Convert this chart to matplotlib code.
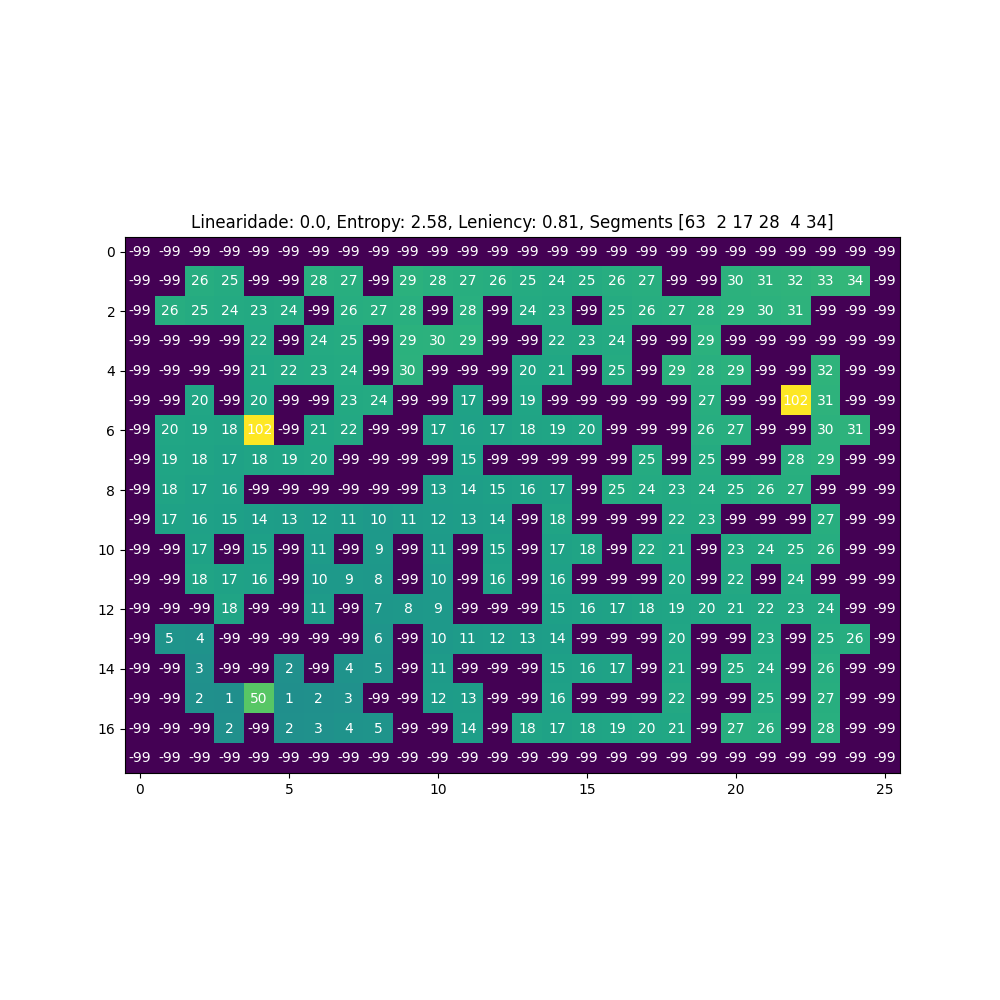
import numpy as np
import matplotlib
matplotlib.use("Agg")
import matplotlib.pyplot as plt

# -----------------------------
# level grid (-99 = wall)
# -----------------------------
W = -99
grid = [
    [W] * 26,
    [W, W, 26, 25, W, W, 28, 27, W, 29, 28, 27, 26, 25, 24, 25, 26, 27, W, W, 30, 31, 32, 33, 34, W],
    [W, 26, 25, 24, 23, 24, W, 26, 27, 28, W, 28, W, 24, 23, W, 25, 26, 27, 28, 29, 30, 31, W, W, W],
    [W, W, W, W, 22, W, 24, 25, W, 29, 30, 29, W, W, 22, 23, 24, W, W, 29, W, W, W, W, W, W],
    [W, W, W, W, 21, 22, 23, 24, W, 30, W, W, W, 20, 21, W, 25, W, 29, 28, 29, W, W, 32, W, W],
    [W, W, 20, W, 20, W, W, 23, 24, W, W, 17, W, 19, W, W, W, W, W, 27, W, W, 102, 31, W, W],
    [W, 20, 19, 18, 102, W, 21, 22, W, W, 17, 16, 17, 18, 19, 20, W, W, W, 26, 27, W, W, 30, 31, W],
    [W, 19, 18, 17, 18, 19, 20, W, W, W, W, 15, W, W, W, W, W, 25, W, 25, W, W, 28, 29, W, W],
    [W, 18, 17, 16, W, W, W, W, W, W, 13, 14, 15, 16, 17, W, 25, 24, 23, 24, 25, 26, 27, W, W, W],
    [W, 17, 16, 15, 14, 13, 12, 11, 10, 11, 12, 13, 14, W, 18, W, W, W, 22, 23, W, W, W, 27, W, W],
    [W, W, 17, W, 15, W, 11, W, 9, W, 11, W, 15, W, 17, 18, W, 22, 21, W, 23, 24, 25, 26, W, W],
    [W, W, 18, 17, 16, W, 10, 9, 8, W, 10, W, 16, W, 16, W, W, W, 20, W, 22, W, 24, W, W, W],
    [W, W, W, 18, W, W, 11, W, 7, 8, 9, W, W, W, 15, 16, 17, 18, 19, 20, 21, 22, 23, 24, W, W],
    [W, 5, 4, W, W, W, W, W, 6, W, 10, 11, 12, 13, 14, W, W, W, 20, W, W, 23, W, 25, 26, W],
    [W, W, 3, W, W, 2, W, 4, 5, W, 11, W, W, W, 15, 16, 17, W, 21, W, 25, 24, W, 26, W, W],
    [W, W, 2, 1, 50, 1, 2, 3, W, W, 12, 13, W, W, 16, W, W, W, 22, W, W, 25, W, 27, W, W],
    [W, W, W, 2, W, 2, 3, 4, 5, W, W, 14, W, 18, 17, 18, 19, 20, 21, W, 27, 26, W, 28, W, W],
    [W] * 26,
]
title = "Linearidade: 0.0, Entropy: 2.58, Leniency: 0.81, Segments [63  2 17 28  4 34]"

data = np.array(grid)

fig, ax = plt.subplots(figsize=(10, 10), dpi=100)
ax.imshow(data, cmap="viridis")

for i in range(data.shape[0]):
    for j in range(data.shape[1]):
        ax.text(j, i, str(data[i, j]), ha="center", va="center", color="w")

ax.set_title(title)
fig.savefig("out.png")
